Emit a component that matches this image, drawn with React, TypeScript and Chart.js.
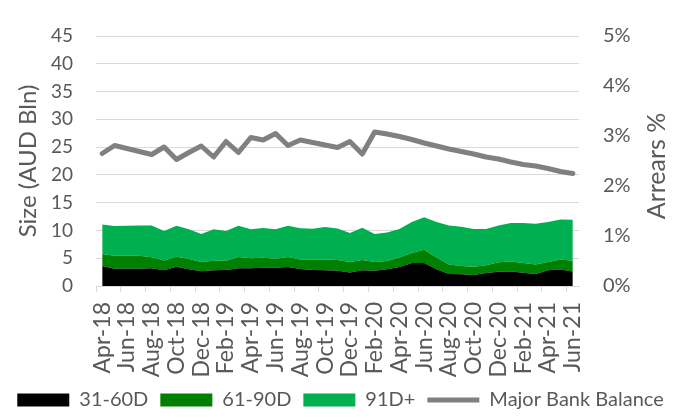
import React, { useEffect, useRef } from 'react';
import { Chart, registerables } from 'chart.js';

Chart.register(...registerables);

const months = [
  'Apr-18', 'May-18', 'Jun-18', 'Jul-18', 'Aug-18', 'Sep-18', 'Oct-18', 'Nov-18', 'Dec-18',
  'Jan-19', 'Feb-19', 'Mar-19', 'Apr-19', 'May-19', 'Jun-19', 'Jul-19', 'Aug-19', 'Sep-19',
  'Oct-19', 'Nov-19', 'Dec-19', 'Jan-20', 'Feb-20', 'Mar-20', 'Apr-20', 'May-20', 'Jun-20',
  'Jul-20', 'Aug-20', 'Sep-20', 'Oct-20', 'Nov-20', 'Dec-20', 'Jan-21', 'Feb-21', 'Mar-21',
  'Apr-21', 'May-21', 'Jun-21',
];

// Size, AUD Bln (stacked)
const arrears31to60 = [
  3.58, 3.12, 3.12, 3.12, 3.18, 2.84, 3.46, 3.0, 2.67, 2.84, 2.9, 3.18, 3.18, 3.3, 3.3, 3.4,
  3.07, 2.9, 2.84, 2.73, 2.44, 2.84, 2.73, 3.0, 3.4, 4.15, 4.15, 3.0, 2.16, 2.1, 1.99, 2.33,
  2.56, 2.61, 2.39, 2.16, 2.84, 2.95, 2.61,
];
const arrears61to90 = [
  2.16, 2.33, 2.33, 2.33, 1.99, 1.76, 1.82, 1.88, 1.65, 1.71, 1.65, 2.04, 1.82, 1.8, 1.6, 1.82,
  1.7, 1.87, 1.93, 1.93, 1.88, 1.82, 1.59, 1.49, 1.71, 1.81, 2.38, 2.11, 1.7, 1.48, 1.47, 1.42,
  1.7, 1.82, 1.76, 1.7, 1.48, 1.82, 1.94,
];
const arrears91plus = [
  5.33, 5.35, 5.4, 5.45, 5.73, 5.3, 5.57, 5.32, 5.05, 5.65, 5.35, 5.63, 5.2, 5.35, 5.3, 5.63,
  5.63, 5.53, 5.83, 5.68, 5.22, 5.84, 5.05, 5.16, 5.16, 5.57, 5.85, 6.42, 7.04, 7.1, 6.81, 6.52,
  6.64, 6.93, 7.21, 7.33, 7.21, 7.21, 7.38,
];
// Arrears %, right axis
const majorBankBalance = [
  2.65, 2.81, 2.75, 2.69, 2.63, 2.78, 2.53, 2.67, 2.8, 2.58, 2.89, 2.67, 2.97, 2.92, 3.05, 2.81,
  2.92, 2.87, 2.82, 2.77, 2.89, 2.64, 3.08, 3.04, 2.99, 2.93, 2.86, 2.8, 2.74, 2.69, 2.64, 2.58,
  2.54, 2.48, 2.43, 2.4, 2.35, 2.29, 2.25,
];

const FONT = 'Lato';
const TEXT = '#595959';
const GRID = '#D9D9D9';

export default function App() {
  const ref = useRef<HTMLCanvasElement>(null);

  useEffect(() => {
    const canvas = ref.current;
    if (!canvas) return;

    const rightTitle = {
      id: 'rightTitle',
      afterDraw(chart: any) {
        const { ctx, chartArea } = chart;
        ctx.save();
        ctx.translate(657, (chartArea.top + chartArea.bottom) / 2 + 5);
        ctx.rotate(-Math.PI / 2);
        ctx.font = `25px ${FONT}`;
        ctx.fillStyle = TEXT;
        ctx.textAlign = 'center';
        ctx.textBaseline = 'middle';
        ctx.fillText('Arrears %', 0, 0);
        ctx.restore();
      },
    };

    const chart = new Chart(canvas, {
      type: 'line',
      data: {
        labels: months,
        datasets: [
          {
            label: '31-60D',
            data: arrears31to60,
            yAxisID: 'y',
            backgroundColor: '#000000',
            borderColor: '#000000',
            borderWidth: 0,
            fill: 'origin',
            pointRadius: 0,
            pointStyle: 'rect',
            order: 1,
          },
          {
            label: '61-90D',
            data: arrears61to90,
            yAxisID: 'y',
            backgroundColor: '#008000',
            borderColor: '#008000',
            borderWidth: 0,
            fill: '-1',
            pointRadius: 0,
            pointStyle: 'rect',
            order: 1,
          },
          {
            label: '91D+',
            data: arrears91plus,
            yAxisID: 'y',
            backgroundColor: '#00B050',
            borderColor: '#00B050',
            borderWidth: 0,
            fill: '-1',
            pointRadius: 0,
            pointStyle: 'rect',
            order: 1,
          },
          {
            label: 'Major Bank Balance',
            data: majorBankBalance,
            yAxisID: 'y1',
            borderColor: '#808080',
            backgroundColor: '#808080',
            borderWidth: 5,
            borderCapStyle: 'round',
            borderJoinStyle: 'round',
            fill: false,
            pointRadius: 0,
            pointStyle: 'line',
            order: 0,
          },
        ],
      },
      options: {
        responsive: false,
        animation: false,
        devicePixelRatio: 1,
        layout: { padding: { top: 22, left: 0, right: 0, bottom: 0 } },
        plugins: {
          tooltip: { enabled: false },
          legend: {
            position: 'bottom',
            labels: {
              usePointStyle: true,
              pointStyleWidth: 52,
              boxHeight: 13,
              padding: 12,
              color: TEXT,
              font: { family: FONT, size: 20 },
              sort: (a: any, b: any) => a.datasetIndex - b.datasetIndex,
            },
          },
        },
        scales: {
          x: {
            offset: true,
            grid: {
              offset: true,
              drawOnChartArea: false,
              drawTicks: true,
              tickLength: 6,
              lineWidth: 1,
              color: (c: any) => (c.index % 2 === 0 ? GRID : 'rgba(0,0,0,0)'),
            },
            border: { display: true, color: GRID, width: 1 },
            ticks: {
              autoSkip: false,
              maxRotation: 90,
              minRotation: 90,
              padding: 10,
              color: TEXT,
              font: { family: FONT, size: 23 },
              callback: (_v: any, i: number) => (i % 2 === 0 ? months[i] : ''),
            },
            afterFit: (s: any) => {
              s.height = 92;
            },
          },
          y: {
            position: 'left',
            stacked: true,
            min: 0,
            max: 45,
            grid: { color: GRID, lineWidth: 1, drawTicks: false },
            border: { display: false },
            ticks: {
              stepSize: 5,
              padding: 23,
              color: TEXT,
              font: { family: FONT, size: 19 },
            },
            title: {
              display: true,
              text: 'Size (AUD Bln)',
              color: TEXT,
              font: { family: FONT, size: 24 },
              padding: { top: 14, bottom: 0 },
            },
            afterFit: (s: any) => {
              s.width = 96;
            },
          },
          y1: {
            position: 'right',
            min: 0,
            max: 5,
            grid: { display: false, drawTicks: false },
            border: { display: false },
            ticks: {
              stepSize: 1,
              padding: 24,
              color: TEXT,
              font: { family: FONT, size: 20 },
              callback: (v: any) => `${v}%`,
            },
            afterFit: (s: any) => {
              s.width = 102;
            },
          },
        },
      },
      plugins: [rightTitle],
    } as any);

    return () => chart.destroy();
  }, []);

  return (
    <canvas
      ref={ref}
      width={681}
      height={420}
      style={{ position: 'fixed', left: 0, top: 0, display: 'block', width: 681, height: 420 }}
    />
  );
}
